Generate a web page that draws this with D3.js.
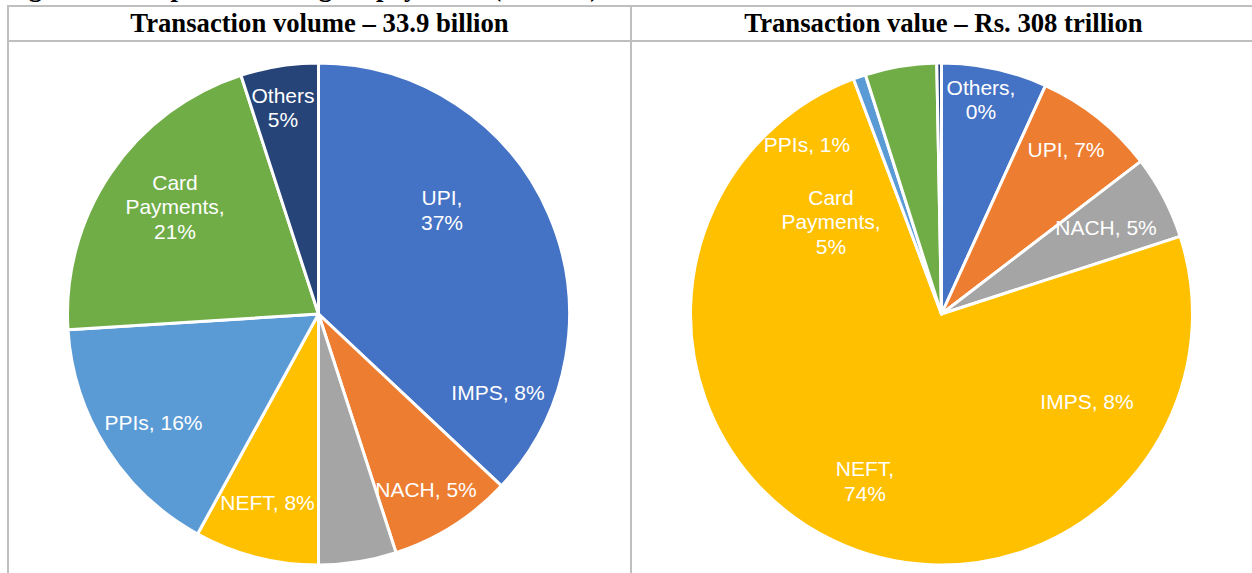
<!DOCTYPE html>
<html>
<head>
<meta charset="utf-8">
<script src="https://cdn.jsdelivr.net/npm/d3@7/dist/d3.min.js"></script>
<style>
  html, body { margin: 0; padding: 0; background: #fff; }
  svg { display: block; }
</style>
</head>
<body>
<svg id="chart" width="1252" height="573"></svg>
<script>
// Payment systems, in the order the slices run clockwise from 12 o'clock
const categories = ["UPI", "IMPS", "NACH", "NEFT", "PPIs", "Card Payments", "Others"];
const sliceColors = ["#4472C4", "#ED7D31", "#A5A5A5", "#FFC000", "#5B9BD5", "#70AD47", "#264478"];

// Share of transaction volume (%), total 33.9 billion
const volumeShare = [37, 8, 5, 8, 16, 21, 5];
// Share of transaction value (%), total Rs. 308 trillion
const valueShare = [6.8, 7.8, 5.4, 74.3, 0.8, 4.6, 0.3];

const panelTitles = ["Transaction volume \u2013 33.9 billion", "Transaction value \u2013 Rs. 308 trillion"];
const captionText = "Figure 2: Composition of digital payments (2018-19)";

// Label text lines per category (how the label wraps)
const volumeLabelLines = {
  "UPI": ["UPI,", "{v}"], "IMPS": ["IMPS, {v}"], "NACH": ["NACH, {v}"], "NEFT": ["NEFT, {v}"],
  "PPIs": ["PPIs, {v}"], "Card Payments": ["Card", "Payments,", "{v}"], "Others": ["Others", "{v}"]
};
const valueLabelLines = {
  "UPI": ["UPI, {v}"], "IMPS": ["IMPS, {v}"], "NACH": ["NACH, {v}"], "NEFT": ["NEFT,", "{v}"],
  "PPIs": ["PPIs, {v}"], "Card Payments": ["Card", "Payments,", "{v}"], "Others": ["Others,", "{v}"]
};

// Label placement, as offsets from the pie centre
const volumeLabelOffsets = {
  "UPI": [123.5, -104], "IMPS": [179.5, 79], "NACH": [107.5, 176], "NEFT": [-51, 189],
  "PPIs": [-165, 109], "Card Payments": [-143.5, -107], "Others": [-35.5, -206.5]
};
const valueLabelOffsets = {
  "UPI": [124.5, -164], "IMPS": [145.5, 88], "NACH": [164.5, -86], "NEFT": [-76.5, 167],
  "PPIs": [-134.5, -169], "Card Payments": [-110.5, -92], "Others": [39.5, -214.5]
};

const W = 1252, H = 573;
const svg = d3.select("#chart");
const gridColor = "#BFBFBF";
const leftX = 8, midX = 631, rightX = 1256, topY = 6, headY = 41;

// Caption line above the table (only its descenders fall inside the page)
svg.append("text")
  .attr("x", leftX - 3).attr("y", -4)
  .attr("font-family", "'Liberation Serif', 'Times New Roman', serif")
  .attr("font-weight", "bold").attr("font-size", 26.7)
  .attr("fill", "#000")
  .text(captionText);

// Table frame
const grid = svg.append("g").attr("stroke", gridColor).attr("stroke-width", 2).attr("fill", "none");
grid.append("line").attr("x1", leftX - 1).attr("x2", W).attr("y1", topY).attr("y2", topY);
grid.append("line").attr("x1", leftX - 1).attr("x2", W).attr("y1", headY).attr("y2", headY);
grid.append("line").attr("x1", leftX).attr("x2", leftX).attr("y1", topY - 1).attr("y2", H);
grid.append("line").attr("x1", midX).attr("x2", midX).attr("y1", topY - 1).attr("y2", H);

// Header titles
const cellCentres = [(leftX + midX) / 2, (midX + rightX) / 2];
svg.selectAll("text.title").data(panelTitles).join("text")
  .attr("class", "title")
  .attr("x", (d, i) => cellCentres[i]).attr("y", 32)
  .attr("text-anchor", "middle")
  .attr("font-family", "'Liberation Serif', 'Times New Roman', serif")
  .attr("font-weight", "bold").attr("font-size", 26.7)
  .attr("fill", "#000")
  .text(d => d);

const color = d3.scaleOrdinal(categories, sliceColors);
const pie = d3.pie().sort(null).value(d => d.value);
const radius = 251;
const arc = d3.arc().innerRadius(0).outerRadius(radius);
const pctFmt = v => Math.round(v) + "%";

function drawPie(cx, cy, shares, lines, offsets) {
  const data = categories.map((c, i) => ({ name: c, value: shares[i] }));
  const g = svg.append("g").attr("transform", `translate(${cx},${cy})`);
  const arcs = pie(data);

  g.selectAll("path").data(arcs).join("path")
    .attr("d", arc)
    .attr("fill", d => color(d.data.name))
    .attr("stroke", "#fff").attr("stroke-width", 3).attr("stroke-linejoin", "round");

  const lh = 24.5;
  const labels = g.selectAll("text.lbl").data(arcs).join("text")
    .attr("class", "lbl")
    .attr("text-anchor", "middle")
    .attr("font-family", "'Liberation Sans', Arial, sans-serif")
    .attr("font-size", 21)
    .attr("fill", "#fff")
    .attr("transform", d => `translate(${offsets[d.data.name][0]},${offsets[d.data.name][1]})`);

  labels.each(function (d) {
    const ls = lines[d.data.name].map(s => s.replace("{v}", pctFmt(d.data.value)));
    const t = d3.select(this);
    const y0 = -(ls.length - 1) * lh / 2;
    ls.forEach((s, k) => {
      t.append("tspan").attr("x", 0).attr("y", y0 + k * lh).attr("dy", "0.35em").text(s);
    });
  });
}

drawPie(318.5, 314, volumeShare, volumeLabelLines, volumeLabelOffsets);
drawPie(941.5, 314, valueShare, valueLabelLines, valueLabelOffsets);
</script>
</body>
</html>
